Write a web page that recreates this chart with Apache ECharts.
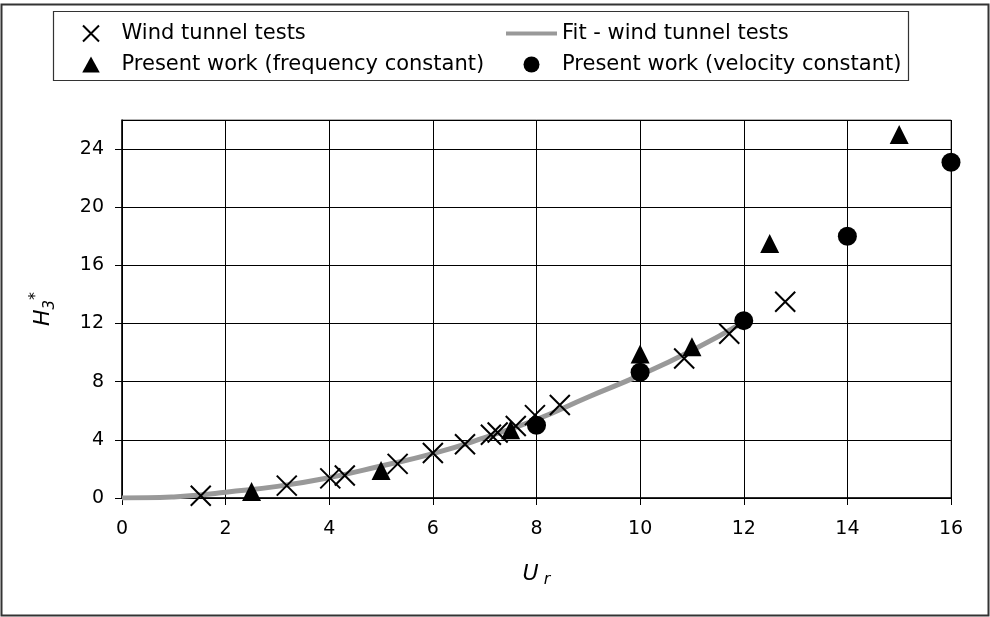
<!DOCTYPE html>
<html>
<head>
<meta charset="utf-8">
<script src="https://cdn.jsdelivr.net/npm/echarts@6/dist/echarts.min.js"></script>
<style>
html,body{margin:0;padding:0;background:#fff;}
#c{width:990px;height:617px;}
</style>
</head>
<body>
<div id="c"></div>
<script>
// Data
const windTunnel = [[1.52,0.15],[3.18,0.85],[4.02,1.35],[4.3,1.55],[5.32,2.35],[6.0,3.1],[6.62,3.7],[7.12,4.35],[7.25,4.5],[7.6,4.95],[7.97,5.7],[8.45,6.4],[10.85,9.6],[11.72,11.3],[12.8,13.5]];
const fitCurve = [[0,0],[0.5,0.01],[1,0.07],[1.5,0.2],[2,0.4],[3,0.8],[4,1.4],[5,2.2],[6,3.05],[7,4.15],[8,5.4],[9,6.95],[10,8.45],[11,10.15],[12,12.1]];
const freqConst = [[2.5,0.45],[5,1.9],[7.5,4.7],[10,9.9],[11,10.4],[12.5,17.5],[15,25]];
const velConst = [[8,5.0],[10,8.65],[12,12.2],[14,18],[16,23.1]];
const xTicks = {min:0, max:16, interval:2};
const yTicks = {min:0, max:26, interval:4};
const names = ['Wind tunnel tests','Fit - wind tunnel tests','Present work (frequency constant)','Present work (velocity constant)'];

const FONT = 'DejaVu Sans';
const chart = echarts.init(document.getElementById('c'), null, {renderer:'canvas'});
const crossPath = 'path://M0,0L20,20M20,0L0,20';
const lineIcon = 'path://M0,0L0,0M0,6L51,6L51,10L0,10ZM0,16L0,16';
const triIcon = 'path://M8.5,0L17,15.5L0,15.5Z';
const legendText = {fontFamily:FONT,fontSize:21,color:'#000'};
chart.setOption({
  animation:false,
  backgroundColor:'#fff',
  textStyle:{fontFamily:FONT},
  graphic:[
    {type:'rect', shape:{x:1.5,y:4.5,width:987,height:611}, style:{fill:'none',stroke:'#333',lineWidth:2}, silent:true, z:-1},
    {type:'rect', shape:{x:53.5,y:11.5,width:855,height:69}, style:{fill:'none',stroke:'#333',lineWidth:1.2}, silent:true, z:-1}
  ],
  legend:[
    {data:[names[0],{name:names[2],icon:triIcon}], orient:'vertical', left:77, top:18, itemWidth:51, itemHeight:16, itemGap:10,
     textStyle:legendText},
    {data:[{name:names[1],icon:lineIcon},names[3]], orient:'vertical', left:501, top:18, itemWidth:51, itemHeight:16, itemGap:10,
     textStyle:legendText}
  ],
  grid:{left:122,right:39,top:120,bottom:119,show:true,borderColor:'#666',borderWidth:1},
  xAxis:{type:'value',min:xTicks.min,max:xTicks.max,interval:xTicks.interval,
    name:'{u|U}{r| r}', nameLocation:'middle', nameGap:62,
    nameTextStyle:{rich:{u:{fontFamily:FONT,fontSize:22,fontStyle:'italic',color:'#000',verticalAlign:'middle',lineHeight:28},
                         r:{fontFamily:FONT,fontSize:16,fontStyle:'italic',color:'#000',verticalAlign:'bottom',lineHeight:28}}},
    axisLine:{show:true,onZero:false,lineStyle:{color:'#000',width:1.5}},
    axisTick:{show:true,inside:false,length:7,lineStyle:{color:'#000',width:1}},
    axisLabel:{fontFamily:FONT,fontSize:19,color:'#000',margin:22},
    splitLine:{show:true,lineStyle:{color:'#000',width:1}}
  },
  yAxis:{type:'value',min:yTicks.min,max:yTicks.max,interval:yTicks.interval,
    name:'{i|H}{s|3}{p|*}', nameLocation:'middle', nameGap:64, nameRotate:90,
    nameTextStyle:{rich:{i:{fontFamily:FONT,fontSize:22,fontStyle:'italic',color:'#000',verticalAlign:'middle',lineHeight:30},
                         s:{fontFamily:FONT,fontSize:15,fontStyle:'italic',color:'#000',verticalAlign:'bottom',lineHeight:30},
                         p:{fontFamily:FONT,fontSize:16,color:'#000',verticalAlign:'top',lineHeight:30}}},
    axisLine:{show:true,onZero:false,lineStyle:{color:'#000',width:1.5}},
    axisTick:{show:true,inside:false,length:7,lineStyle:{color:'#000',width:1}},
    axisLabel:{fontFamily:FONT,fontSize:19,color:'#000',margin:18,showMaxLabel:false},
    splitLine:{show:true,lineStyle:{color:'#000',width:1}}
  },
  series:[
    {name:names[1],type:'line',data:fitCurve,smooth:true,showSymbol:false,symbol:'none',
     lineStyle:{color:'#999',width:5},itemStyle:{color:'#999'},z:2},
    {name:names[0],type:'scatter',data:windTunnel,symbol:crossPath,symbolSize:20,symbolKeepAspect:true,
     itemStyle:{color:'#000',borderColor:'#000',borderWidth:2,opacity:1},z:3},
    {name:names[2],type:'scatter',data:freqConst,symbol:'triangle',symbolSize:19,symbolKeepAspect:true,
     itemStyle:{color:'#000',opacity:1},z:4},
    {name:names[3],type:'scatter',data:velConst,symbol:'circle',symbolSize:19,symbolKeepAspect:true,
     itemStyle:{color:'#000',opacity:1},z:5}
  ]
});
</script>
</body>
</html>
